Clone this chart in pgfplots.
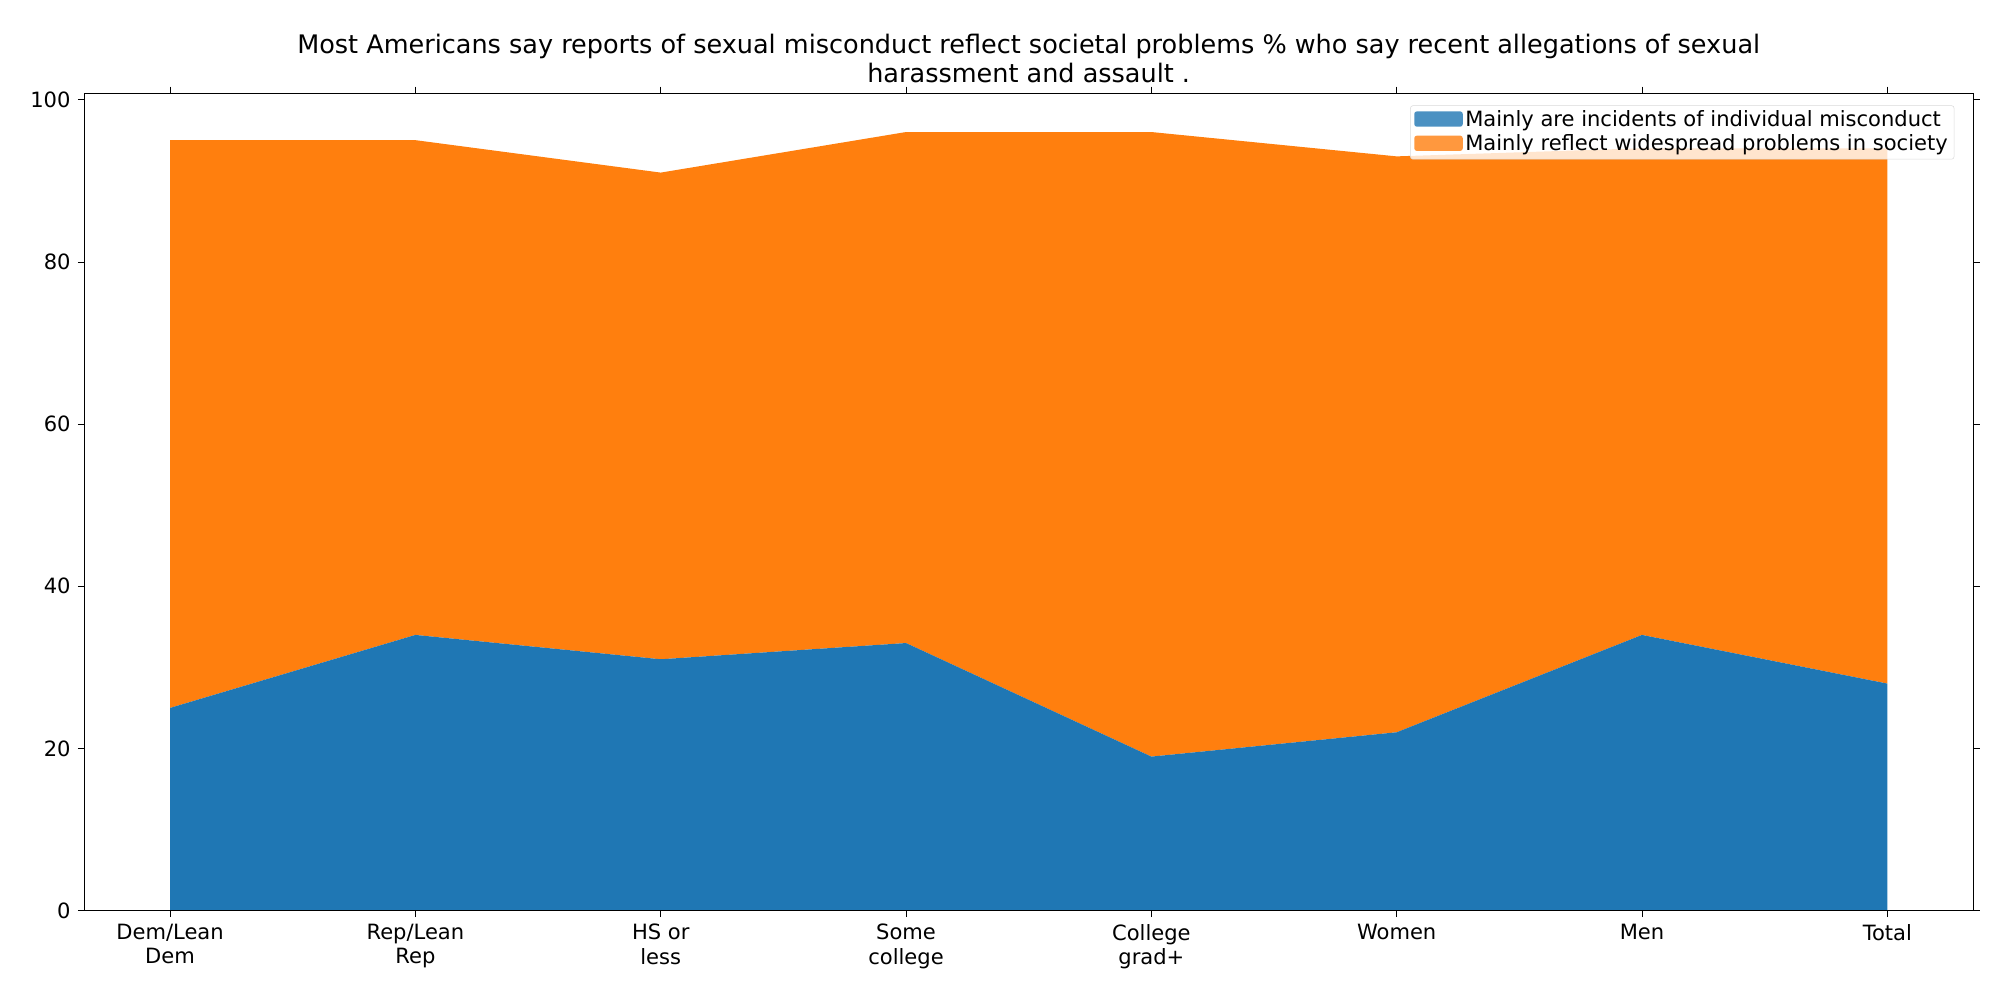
\documentclass[border=0pt]{standalone}
\usepackage{pgfplots}
\pgfplotsset{compat=1.18}
\usepackage{fontspec}
\setmainfont{DejaVu Sans}
\definecolor{mblue}{HTML}{1F77B4}
\definecolor{morange}{HTML}{FF7F0E}
\begin{document}
\fontsize{16.5}{20}\selectfont
\begin{tikzpicture}[x=1pt,y=1pt]
\useasboundingbox (-66,-70) rectangle (1502,714);
\begin{axis}[at={(0,0)},anchor=south west,
 scale only axis, width=1481pt, height=641pt,
 xmin=-0.35, xmax=7.35, ymin=0, ymax=100.8,
 stack plots=y, area style,
 xtick={0,...,7},
 xticklabels={{Dem/Lean\\Dem},{Rep/Lean\\Rep},{HS or\\less},{Some\\college},{College\\grad+},Women,Men,Total},
 xticklabel style={align=center, font=\fontsize{16.5}{19}\selectfont},
 ytick={0,20,40,60,80,100},
 yticklabel style={font=\fontsize{16.5}{19}\selectfont},
 /pgf/number format/assume math mode=true,
 tick align=outside, tick style={black, thin}, major tick length=5pt,
 title={Most Americans say reports of sexual misconduct reflect societal problems \% who say recent allegations of sexual\\harassment and assault .},
 title style={align=center, font=\fontsize{20}{23}\selectfont, yshift=-4pt},
 legend style={at={(0.99,0.985)}, anchor=north east, fill=white, fill opacity=0.8, text opacity=1, draw=black!15, rounded corners=2pt, font=\fontsize{16.5}{21}\selectfont, legend cell align=left},
 legend image code/.code={\fill[#1] (0pt,-5pt) rectangle (38pt,7pt);},
]
\addplot[fill=mblue, draw=none] coordinates {(0,25)(1,34)(2,31)(3,33)(4,19)(5,22)(6,34)(7,28)} \closedcycle;
\addplot[fill=morange, draw=none] coordinates {(0,70)(1,61)(2,60)(3,63)(4,77)(5,71)(6,60)(7,66)} \closedcycle;
\legend{Mainly are incidents of individual misconduct, Mainly reflect widespread problems in society}
\end{axis}
\end{tikzpicture}
\end{document}
